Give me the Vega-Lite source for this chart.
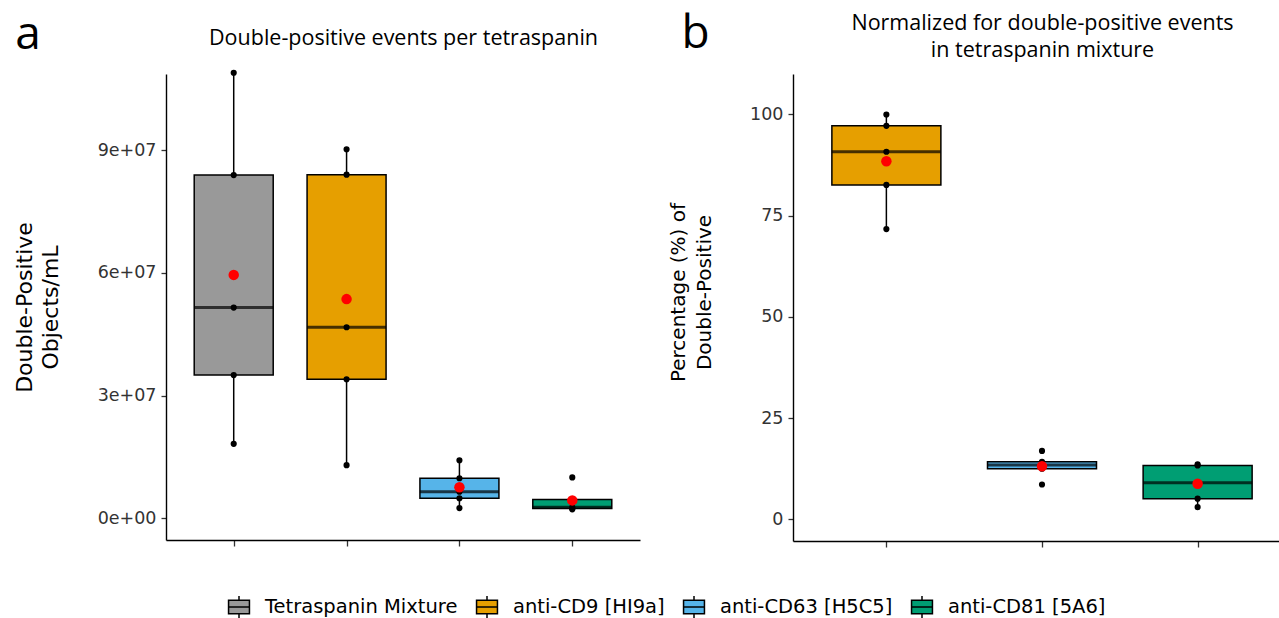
{
  "$schema": "https://vega.github.io/schema/vega-lite/v6.json",
  "padding": {"left": 13, "top": 11, "right": -12, "bottom": 0},
  "datasets": {
    "counts": [
      {"group": "Tetraspanin Mixture", "value": 108900000},
      {"group": "Tetraspanin Mixture", "value": 83900000},
      {"group": "Tetraspanin Mixture", "value": 51500000},
      {"group": "Tetraspanin Mixture", "value": 35000000},
      {"group": "Tetraspanin Mixture", "value": 18200000},
      {"group": "anti-CD9 [HI9a]", "value": 90200000},
      {"group": "anti-CD9 [HI9a]", "value": 84000000},
      {"group": "anti-CD9 [HI9a]", "value": 46700000},
      {"group": "anti-CD9 [HI9a]", "value": 34000000},
      {"group": "anti-CD9 [HI9a]", "value": 13000000},
      {"group": "anti-CD63 [H5C5]", "value": 14200000},
      {"group": "anti-CD63 [H5C5]", "value": 9800000},
      {"group": "anti-CD63 [H5C5]", "value": 6500000},
      {"group": "anti-CD63 [H5C5]", "value": 4900000},
      {"group": "anti-CD63 [H5C5]", "value": 2500000},
      {"group": "anti-CD81 [5A6]", "value": 10000000},
      {"group": "anti-CD81 [5A6]", "value": 4600000},
      {"group": "anti-CD81 [5A6]", "value": 2700000},
      {"group": "anti-CD81 [5A6]", "value": 2400000},
      {"group": "anti-CD81 [5A6]", "value": 2200000}
    ],
    "pct": [
      {"group": "anti-CD9 [HI9a]", "value": 100.0},
      {"group": "anti-CD9 [HI9a]", "value": 97.2},
      {"group": "anti-CD9 [HI9a]", "value": 90.8},
      {"group": "anti-CD9 [HI9a]", "value": 82.6},
      {"group": "anti-CD9 [HI9a]", "value": 71.7},
      {"group": "anti-CD63 [H5C5]", "value": 16.9},
      {"group": "anti-CD63 [H5C5]", "value": 14.2},
      {"group": "anti-CD63 [H5C5]", "value": 13.4},
      {"group": "anti-CD63 [H5C5]", "value": 12.5},
      {"group": "anti-CD63 [H5C5]", "value": 8.6},
      {"group": "anti-CD81 [5A6]", "value": 13.6},
      {"group": "anti-CD81 [5A6]", "value": 13.3},
      {"group": "anti-CD81 [5A6]", "value": 9.0},
      {"group": "anti-CD81 [5A6]", "value": 5.1},
      {"group": "anti-CD81 [5A6]", "value": 3.0}
    ]
  },
  "hconcat": [
    {
      "width": 474,
      "height": 466,
      "data": {"name": "counts"},
      "title": {"text": "a", "dx": 2, "offset": -32},
      "layer": [
        {
          "mark": {
            "type": "boxplot",
            "extent": 1.5,
            "size": 79,
            "outliers": false,
            "box": {"stroke": "black", "strokeWidth": 1.5},
            "median": {"color": "black", "thickness": 3},
            "rule": {"color": "black", "strokeWidth": 1.5}
          },
          "encoding": {
            "x": {
              "field": "group", "type": "nominal",
              "scale": {"type": "point", "padding": 0.6, "domain": ["Tetraspanin Mixture", "anti-CD9 [HI9a]", "anti-CD63 [H5C5]", "anti-CD81 [5A6]"]},
              "axis": {"orient": "bottom", "labels": false, "title": null, "tickSize": 6}
            },
            "y": {
              "field": "value", "type": "quantitative",
              "scale": {"domain": [-5300000, 108600000], "nice": false, "zero": false},
              "axis": {
                "values": [0, 30000000, 60000000, 90000000],
                "labelExpr": "format(datum.value / 10000000, '.0f') + (datum.value == 0 ? 'e+00' : 'e+07')",
                "title": ["Double-Positive", "Objects/mL"],
                "titleFontSize": 22,
                "titleLineHeight": 26,
                "titlePadding": 35
              }
            },
            "color": {
              "field": "group", "type": "nominal",
              "scale": {
                "domain": ["Tetraspanin Mixture", "anti-CD9 [HI9a]", "anti-CD63 [H5C5]", "anti-CD81 [5A6]"],
                "range": ["#999999", "#E69F00", "#56B4E9", "#009E73"]
              },
              "legend": {
                "orient": "none",
                "legendX": 61,
                "legendY": 521,
                "direction": "horizontal",
                "title": null,
                "symbolType": "M-0.95,-0.62H0.95V0.62H-0.95Z M-0.95,0H0.95 M0,-1V-0.62 M0,0.62V1",
                "symbolSize": 484,
                "symbolStrokeWidth": 1.5,
                "symbolStrokeColor": "black",
                "symbolOpacity": 1,
                "labelFont": "DejaVu Sans",
                "labelFontSize": 19.5,
                "labelColor": "black",
                "labelOffset": 14,
                "labelLimit": 400,
                "columnPadding": 15,
                "encode": {"symbols": {"update": {"stroke": {"value": "black"}, "strokeWidth": {"value": 1.5}}}}
              }
            }
          }
        },
        {
          "mark": {"type": "circle", "color": "black", "size": 38, "opacity": 1},
          "encoding": {
            "x": {
              "field": "group", "type": "nominal",
              "scale": {"type": "point", "padding": 0.6, "domain": ["Tetraspanin Mixture", "anti-CD9 [HI9a]", "anti-CD63 [H5C5]", "anti-CD81 [5A6]"]},
              "axis": {"orient": "top", "labels": false, "ticks": false, "domain": false, "title": "Double-positive events per tetraspanin", "titleFont": "Open Sans", "titleFontSize": 21.5, "titlePadding": 25}
            },
            "y": {"field": "value", "type": "quantitative"}
          }
        },
        {
          "mark": {"type": "circle", "color": "red", "size": 110, "opacity": 1},
          "encoding": {
            "x": {
              "field": "group", "type": "nominal",
              "scale": {"type": "point", "padding": 0.6, "domain": ["Tetraspanin Mixture", "anti-CD9 [HI9a]", "anti-CD63 [H5C5]", "anti-CD81 [5A6]"]},
              "axis": null
            },
            "y": {"field": "value", "type": "quantitative", "aggregate": "mean"}
          }
        }
      ],
      "resolve": {"axis": {"x": "independent"}}
    },
    {
      "width": 498,
      "height": 467,
      "data": {"name": "pct"},
      "title": {"text": "b", "dx": 13, "offset": -46},
      "layer": [
        {
          "mark": {
            "type": "boxplot",
            "extent": 1.5,
            "size": 109,
            "outliers": false,
            "box": {"stroke": "black", "strokeWidth": 1.5},
            "median": {"color": "black", "thickness": 3},
            "rule": {"color": "black", "strokeWidth": 1.5}
          },
          "encoding": {
            "x": {
              "field": "group", "type": "nominal",
              "scale": {"type": "point", "padding": 0.6, "domain": ["anti-CD9 [HI9a]", "anti-CD63 [H5C5]", "anti-CD81 [5A6]"]},
              "axis": {"orient": "bottom", "labels": false, "title": null, "tickSize": 6}
            },
            "y": {
              "field": "value", "type": "quantitative",
              "scale": {"domain": [-5.36, 110.0], "nice": false, "zero": false},
              "axis": {
                "values": [0, 25, 50, 75, 100],
                "title": ["Percentage (%) of", "Double-Positive"],
                "titleFontSize": 20,
                "titleLineHeight": 26,
                "titlePadding": 35,
                "titleY": 218
              }
            },
            "color": {
              "field": "group", "type": "nominal",
              "scale": {
                "domain": ["Tetraspanin Mixture", "anti-CD9 [HI9a]", "anti-CD63 [H5C5]", "anti-CD81 [5A6]"],
                "range": ["#999999", "#E69F00", "#56B4E9", "#009E73"]
              }
            }
          }
        },
        {
          "mark": {"type": "circle", "color": "black", "size": 38, "opacity": 1},
          "encoding": {
            "x": {
              "field": "group", "type": "nominal",
              "scale": {"type": "point", "padding": 0.6, "domain": ["anti-CD9 [HI9a]", "anti-CD63 [H5C5]", "anti-CD81 [5A6]"]},
              "axis": {"orient": "top", "labels": false, "ticks": false, "domain": false, "title": ["Normalized for double-positive events", "in tetraspanin mixture"], "titleFont": "Open Sans", "titleFontSize": 21.5, "titleLineHeight": 27, "titlePadding": 13}
            },
            "y": {"field": "value", "type": "quantitative"}
          }
        },
        {
          "mark": {"type": "circle", "color": "red", "size": 110, "opacity": 1},
          "encoding": {
            "x": {
              "field": "group", "type": "nominal",
              "scale": {"type": "point", "padding": 0.6, "domain": ["anti-CD9 [HI9a]", "anti-CD63 [H5C5]", "anti-CD81 [5A6]"]},
              "axis": null
            },
            "y": {"field": "value", "type": "quantitative", "aggregate": "mean"}
          }
        }
      ],
      "resolve": {"axis": {"x": "independent"}}
    }
  ],
  "spacing": 28,
  "resolve": {"scale": {"color": "shared"}},
  "config": {
    "view": {"stroke": null},
    "axis": {
      "grid": false,
      "domainColor": "black",
      "domainWidth": 1.4,
      "tickColor": "#333333",
      "tickWidth": 1.3,
      "tickSize": 5,
      "labelFont": "DejaVu Sans",
      "labelFontSize": 17.5,
      "labelColor": "#333333",
      "labelPadding": 5,
      "titleFont": "DejaVu Sans",
      "titleFontWeight": "normal",
      "titleColor": "black"
    },
    "title": {
      "font": "Open Sans",
      "fontSize": 46,
      "fontWeight": "normal",
      "anchor": "start",
      "frame": "bounds",
      "color": "black"
    }
  }
}
